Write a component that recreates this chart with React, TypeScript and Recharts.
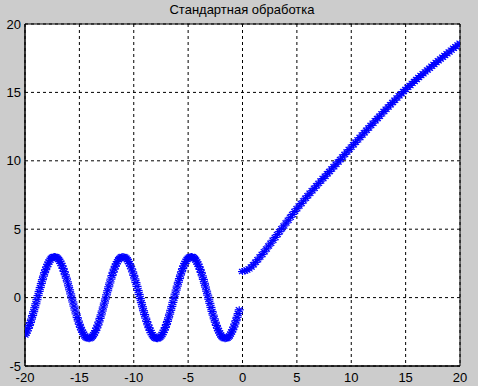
import React from "react";
import {
  ScatterChart,
  Scatter,
  XAxis,
  YAxis,
  CartesianGrid,
  ReferenceArea,
} from "recharts";

const TITLE = "Стандартная обработка";
const X_TICKS = [-20, -15, -10, -5, 0, 5, 10, 15, 20];
const Y_TICKS = [-5, 0, 5, 10, 15, 20];

const LEFT_X = [
  -20.0, -19.9, -19.8, -19.7, -19.6, -19.5, -19.4, -19.3, -19.2, -19.1,
  -19.0, -18.9, -18.8, -18.7, -18.6, -18.5, -18.4, -18.3, -18.2, -18.1,
  -18.0, -17.9, -17.8, -17.7, -17.6, -17.5, -17.4, -17.3, -17.2, -17.1,
  -17.0, -16.9, -16.8, -16.7, -16.6, -16.5, -16.4, -16.3, -16.2, -16.1,
  -16.0, -15.9, -15.8, -15.7, -15.6, -15.5, -15.4, -15.3, -15.2, -15.1,
  -15.0, -14.9, -14.8, -14.7, -14.6, -14.5, -14.4, -14.3, -14.2, -14.1,
  -14.0, -13.9, -13.8, -13.7, -13.6, -13.5, -13.4, -13.3, -13.2, -13.1,
  -13.0, -12.9, -12.8, -12.7, -12.6, -12.5, -12.4, -12.3, -12.2, -12.1,
  -12.0, -11.9, -11.8, -11.7, -11.6, -11.5, -11.4, -11.3, -11.2, -11.1,
  -11.0, -10.9, -10.8, -10.7, -10.6, -10.5, -10.4, -10.3, -10.2, -10.1,
  -10.0, -9.9, -9.8, -9.7, -9.6, -9.5, -9.4, -9.3, -9.2, -9.1,
  -9.0, -8.9, -8.8, -8.7, -8.6, -8.5, -8.4, -8.3, -8.2, -8.1,
  -8.0, -7.9, -7.8, -7.7, -7.6, -7.5, -7.4, -7.3, -7.2, -7.1,
  -7.0, -6.9, -6.8, -6.7, -6.6, -6.5, -6.4, -6.3, -6.2, -6.1,
  -6.0, -5.9, -5.8, -5.7, -5.6, -5.5, -5.4, -5.3, -5.2, -5.1,
  -5.0, -4.9, -4.8, -4.7, -4.6, -4.5, -4.4, -4.3, -4.2, -4.1,
  -4.0, -3.9, -3.8, -3.7, -3.6, -3.5, -3.4, -3.3, -3.2, -3.1,
  -3.0, -2.9, -2.8, -2.7, -2.6, -2.5, -2.4, -2.3, -2.2, -2.1,
  -2.0, -1.9, -1.8, -1.7, -1.6, -1.5, -1.4, -1.3, -1.2, -1.1,
  -1.0, -0.9, -0.8, -0.7, -0.6, -0.5, -0.4, -0.3,
];

const LEFT_Y = [
  -2.74, -2.6, -2.44, -2.25, -2.04, -1.82, -1.57, -1.31, -1.03, -0.74,
  -0.45, -0.15, 0.15, 0.45, 0.74, 1.03, 1.31, 1.57, 1.82, 2.04,
  2.25, 2.44, 2.6, 2.74, 2.85, 2.93, 2.98, 3.0, 2.99, 2.95,
  2.88, 2.79, 2.66, 2.51, 2.33, 2.13, 1.91, 1.67, 1.42, 1.15,
  0.86, 0.57, 0.27, -0.03, -0.32, -0.62, -0.91, -1.19, -1.46, -1.71,
  -1.95, -2.17, -2.37, -2.53, -2.68, -2.81, -2.9, -2.96, -2.99, -3.0,
  -2.97, -2.92, -2.83, -2.72, -2.58, -2.41, -2.22, -2.01, -1.78, -1.52,
  -1.26, -0.98, -0.69, -0.4, -0.1, 0.2, 0.5, 0.79, 1.07, 1.35,
  1.61, 1.85, 2.08, 2.29, 2.47, 2.63, 2.76, 2.86, 2.94, 2.98,
  3.0, 2.99, 2.94, 2.87, 2.77, 2.64, 2.48, 2.3, 2.1, 1.88,
  1.63, 1.37, 1.1, 0.82, 0.52, 0.23, -0.07, -0.37, -0.67, -0.96,
  -1.24, -1.5, -1.75, -1.99, -2.2, -2.4, -2.56, -2.71, -2.82, -2.91,
  -2.97, -3.0, -3.0, -2.96, -2.9, -2.81, -2.7, -2.55, -2.38, -2.19,
  -1.97, -1.74, -1.48, -1.21, -0.93, -0.65, -0.35, -0.05, 0.25, 0.55,
  0.84, 1.12, 1.39, 1.65, 1.89, 2.12, 2.32, 2.5, 2.65, 2.78,
  2.88, 2.95, 2.99, 3.0, 2.98, 2.93, 2.85, 2.75, 2.61, 2.45,
  2.27, 2.06, 1.84, 1.59, 1.33, 1.05, 0.77, 0.47, 0.18, -0.12,
  -0.42, -0.72, -1.01, -1.28, -1.55, -1.8, -2.03, -2.24, -2.43, -2.59,
  -2.73, -2.84, -2.92, -2.98, -3.0, -2.99, -2.96, -2.89, -2.8, -2.67,
  -2.52, -2.35, -2.15, -1.93, -1.69, -1.44, -1.17, -0.89,
];

const RIGHT_X = [
  0.0, 0.2, 0.4, 0.6, 0.8, 1.0, 1.2, 1.4, 1.6, 1.8,
  2.0, 2.2, 2.4, 2.6, 2.8, 3.0, 3.2, 3.4, 3.6, 3.8,
  4.0, 4.2, 4.4, 4.6, 4.8, 5.0, 5.2, 5.4, 5.6, 5.8,
  6.0, 6.2, 6.4, 6.6, 6.8, 7.0, 7.2, 7.4, 7.6, 7.8,
  8.0, 8.2, 8.4, 8.6, 8.8, 9.0, 9.2, 9.4, 9.6, 9.8,
  10.0, 10.2, 10.4, 10.6, 10.8, 11.0, 11.2, 11.4, 11.6, 11.8,
  12.0, 12.2, 12.4, 12.6, 12.8, 13.0, 13.2, 13.4, 13.6, 13.8,
  14.0, 14.2, 14.4, 14.6, 14.8, 15.0, 15.2, 15.4, 15.6, 15.8,
  16.0, 16.2, 16.4, 16.6, 16.8, 17.0, 17.2, 17.4, 17.6, 17.8,
  18.0, 18.2, 18.4, 18.6, 18.8, 19.0, 19.2, 19.4, 19.6, 19.8,
  20.0,
];

const RIGHT_Y = [
  1.9, 1.94, 2.01, 2.1, 2.23, 2.4, 2.58, 2.77, 2.96, 3.15,
  3.35, 3.56, 3.77, 3.98, 4.19, 4.4, 4.61, 4.82, 5.03, 5.24,
  5.45, 5.66, 5.87, 6.08, 6.29, 6.5, 6.69, 6.88, 7.07, 7.26,
  7.45, 7.63, 7.81, 7.99, 8.17, 8.35, 8.52, 8.7, 8.87, 9.05,
  9.22, 9.4, 9.57, 9.75, 9.92, 10.1, 10.28, 10.46, 10.64, 10.82,
  11.0, 11.18, 11.35, 11.53, 11.7, 11.88, 12.05, 12.23, 12.4, 12.58,
  12.75, 12.92, 13.09, 13.26, 13.43, 13.6, 13.77, 13.93, 14.1, 14.26,
  14.43, 14.59, 14.75, 14.9, 15.06, 15.22, 15.37, 15.51, 15.66, 15.8,
  15.95, 16.09, 16.23, 16.36, 16.5, 16.64, 16.77, 16.91, 17.04, 17.18,
  17.31, 17.44, 17.57, 17.7, 17.83, 17.96, 18.09, 18.22, 18.34, 18.47,
  18.6,
];

const leftData = LEFT_X.map((x, i) => ({ x, y: LEFT_Y[i] }));
const rightData = RIGHT_X.map((x, i) => ({ x, y: RIGHT_Y[i] }));

const BLUE = "#0000ff";

const Star = (props: any) => {
  const { cx, cy } = props;
  if (cx == null || cy == null) return null;
  return (
    <g stroke={BLUE} strokeWidth={1.2}>
      <line x1={cx - 4.5} y1={cy} x2={cx + 4.5} y2={cy} />
      <line x1={cx} y1={cy - 3.5} x2={cx} y2={cy + 3.5} />
      <line x1={cx - 3.5} y1={cy - 2.5} x2={cx + 3.5} y2={cy + 2.5} />
      <line x1={cx - 3.5} y1={cy + 2.5} x2={cx + 3.5} y2={cy - 2.5} />
    </g>
  );
};

const FONT = "'Liberation Sans', Arial, sans-serif";

export default function App() {
  return (
    <div
      style={{
        position: "absolute",
        left: 0,
        top: 0,
        width: 478,
        height: 386,
        background: "#cccccc",
        fontFamily: FONT,
      }}
    >
      <div
        style={{
          position: "absolute",
          left: 0,
          top: 2,
          width: 484,
          textAlign: "center",
          fontSize: 13,
          color: "#000",
        }}
      >
        {TITLE}
      </div>
      <ScatterChart
        width={478}
        height={386}
        margin={{ top: 24, right: 18, bottom: 0, left: 0 }}
      >
        <CartesianGrid
          stroke="#000"
          strokeDasharray="3 3"
          fill="#ffffff"
          fillOpacity={1}
          horizontalValues={Y_TICKS}
          verticalValues={X_TICKS}
        />
        <XAxis
          type="number"
          dataKey="x"
          domain={[-20, 20]}
          ticks={X_TICKS}
          interval={0}
          allowDataOverflow
          height={20}
          tickLine={false}
          tickSize={0}
          tickMargin={7}
          axisLine={{ stroke: "#000" }}
          tick={{ fill: "#000", fontSize: 13, fontFamily: FONT }}
        />
        <YAxis
          type="number"
          dataKey="y"
          domain={[-5, 20]}
          ticks={Y_TICKS}
          interval={0}
          allowDataOverflow
          width={25}
          tickLine={false}
          tickSize={0}
          tickMargin={4}
          axisLine={{ stroke: "#000" }}
          tick={{ fill: "#000", fontSize: 13, fontFamily: FONT }}
        />
        <ReferenceArea
          x1={-20}
          x2={20}
          y1={-5}
          y2={20}
          fill="none"
          stroke="#000"
          strokeWidth={1}
          ifOverflow="visible"
        />
        <Scatter
          data={leftData}
          shape={Star}
          isAnimationActive={false}
          fill={BLUE}
        />
        <Scatter
          data={rightData}
          shape={Star}
          isAnimationActive={false}
          fill={BLUE}
        />
      </ScatterChart>
    </div>
  );
}
